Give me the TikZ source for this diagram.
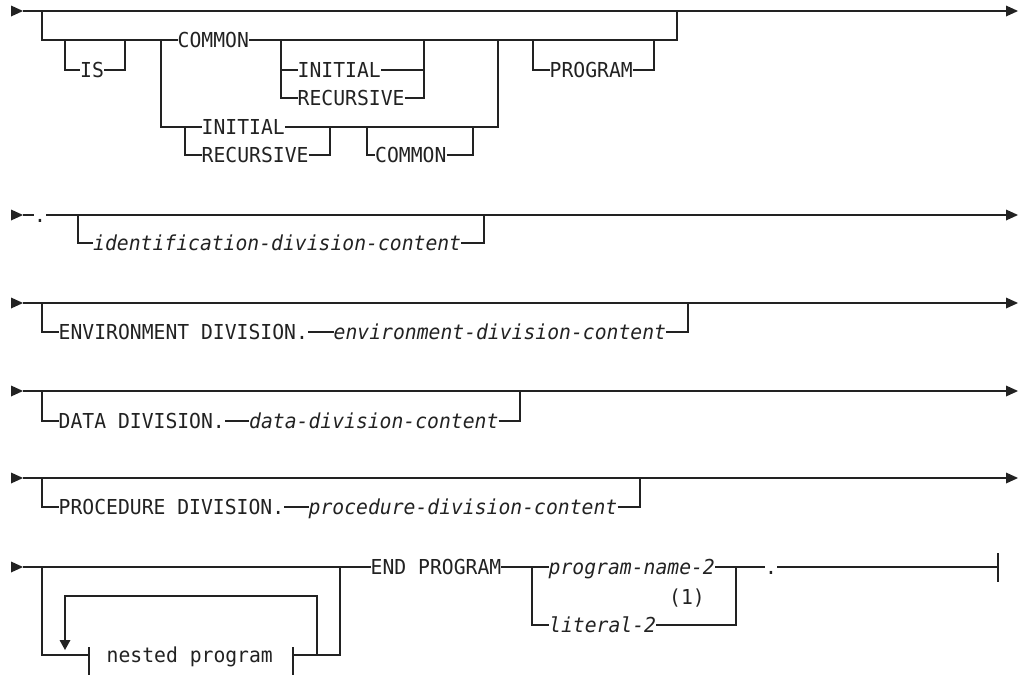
\documentclass[tikz,border=0pt]{standalone}
\usepackage{fontspec}
\setmainfont{DejaVu Sans Mono}[FakeStretch=0.957]
\definecolor{ink}{HTML}{222222}
\tikzset{
  lbl/.style={inner sep=0pt, anchor=west, text height=15pt, text depth=0pt,
    font=\fontsize{20.6}{22}\selectfont, text=ink},
  lbli/.style={lbl, font=\fontsize{20.6}{22}\selectfont\itshape},
  rail/.style={draw=ink, line width=1.25pt},
  startarr/.pic={\fill[ink] (-12,-5.5) -- (0,0) -- (-12,5.5) -- cycle;},
  endarr/.pic={\fill[ink] (0,0) -- (-12,-5.5) -- (-12,5.5) -- cycle;},
  downarr/.pic={\fill[ink] (0,0) -- (-5.5,-10) -- (5.5,-10) -- cycle;},
}
\begin{document}
\begin{tikzpicture}[x=1pt,y=-1pt]
\useasboundingbox (0,0) rectangle (1020,675);

% ---------- Row 1 ----------
\node[lbl] (is)  at (80,70)    {IS};
\node[lbl] (c1)  at (177.5,40) {COMMON};
\node[lbl] (in1) at (297.5,70) {INITIAL};
\node[lbl] (re1) at (297.5,98) {RECURSIVE};
\node[lbl] (in2) at (201.5,127) {INITIAL};
\node[lbl] (re2) at (201.5,155) {RECURSIVE};
\node[lbl] (co2) at (375,155)  {COMMON};
\node[lbl] (pg)  at (549.5,70) {PROGRAM};
\coordinate (r1s) at (23,11);
\coordinate (r1e) at (1006,11);
\pic at (r1s) {startarr};
\pic at (1018,11) {endarr};
\draw[rail] (r1s) -- (r1e);
\draw[rail] (42,11) |- (c1.west);
\draw[rail] (c1.east) -- (677,40) -- (677,11);
\draw[rail] (65,40) |- (is.west);
\draw[rail] (is.east) -| (125,40);
\draw[rail] (281,40) |- (re1.west);
\draw[rail] (281,70) -- (in1.west);
\draw[rail] (in1.east) -| (424,40);
\draw[rail] (re1.east) -| (424,70);
\draw[rail] (161,40) |- (in2.west);
\draw[rail] (185,127) |- (re2.west);
\draw[rail] (in2.east) -- (498,127) -- (498,40);
\draw[rail] (re2.east) -| (330,127);
\draw[rail] (367,127) |- (co2.west);
\draw[rail] (co2.east) -| (473,127);
\draw[rail] (533,40) |- (pg.west);
\draw[rail] (pg.east) -| (654,40);

% ---------- Row 2 ----------
\node[lbl]  (d2)  at (34,215) {.};
\node[lbli] (idc) at (93,243) {identification-division-content};
\pic at (23,215) {startarr};
\pic at (1018,215) {endarr};
\draw[rail] (23,215) -- (d2.west);
\draw[rail] (d2.east) -- (1006,215);
\draw[rail] (78,215) |- (idc.west);
\draw[rail] (idc.east) -| (484,215);

% ---------- Row 3 ----------
\node[lbl]  (env)  at (58.5,332)  {ENVIRONMENT DIVISION.};
\node[lbli] (envc) at (333.5,332) {environment-division-content};
\pic at (23,303) {startarr};
\pic at (1018,303) {endarr};
\draw[rail] (23,303) -- (1006,303);
\draw[rail] (42,303) |- (env.west);
\draw[rail] (env.east) -- (envc.west);
\draw[rail] (envc.east) -| (688,303);

% ---------- Row 4 ----------
\node[lbl]  (dat)  at (58.5,421) {DATA DIVISION.};
\node[lbli] (datc) at (249,421)  {data-division-content};
\pic at (23,391) {startarr};
\pic at (1018,391) {endarr};
\draw[rail] (23,391) -- (1006,391);
\draw[rail] (42,391) |- (dat.west);
\draw[rail] (dat.east) -- (datc.west);
\draw[rail] (datc.east) -| (520,391);

% ---------- Row 5 ----------
\node[lbl]  (proc)  at (58.5,507)  {PROCEDURE DIVISION.};
\node[lbli] (procc) at (308.5,507) {procedure-division-content};
\pic at (23,478) {startarr};
\pic at (1018,478) {endarr};
\draw[rail] (23,478) -- (1006,478);
\draw[rail] (42,478) |- (proc.west);
\draw[rail] (proc.east) -- (procc.west);
\draw[rail] (procc.east) -| (640,478);

% ---------- Row 6 ----------
\node[lbl]  (nest) at (106.5,655) {nested program};
\node[lbl]  (endp) at (370.5,567) {END PROGRAM};
\node[lbli] (pn2)  at (548.5,567) {program-name-2};
\node[lbli] (lit2) at (549,625)   {literal-2};
\node[lbl]  (note) at (669,597)   {(1)};
\node[lbl]  (d6)   at (765,567)   {.};
\coordinate (lt) at (89,655);
\coordinate (rt) at (293,655);
\pic at (23,567) {startarr};
\draw[rail] (23,567) -- (endp.west);
\draw[rail] (42,567) |- (lt);
\draw[rail] (89,647) -- (89,675);
\draw[rail] (293,647) -- (293,675);
\draw[rail] (rt) -| (340,567);
\draw[rail] (317,655) |- (65,596) -- (65,641);
\pic at (65,650) {downarr};
\draw[rail] (endp.east) -- (pn2.west);
\draw[rail] (532,567) |- (lit2.west);
\draw[rail] (pn2.east) -- (d6.west);
\draw[rail] (lit2.east) -| (736,567);
\draw[rail] (d6.east) -- (998,567);
\draw[rail] (998,553) -- (998,582);
\end{tikzpicture}
\end{document}
